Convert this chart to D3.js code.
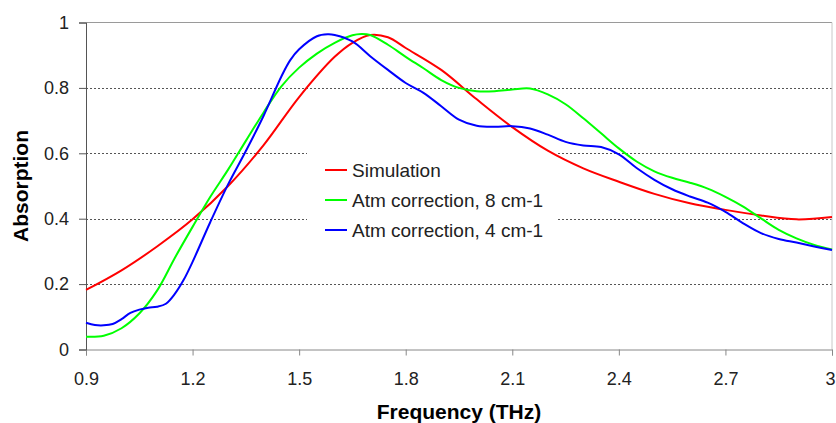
<!DOCTYPE html>
<html>
<head>
<meta charset="utf-8">
<script src="https://cdn.jsdelivr.net/npm/d3@7"></script>
<style>
  body { margin: 0; background: #fff; }
  svg { display: block; font-family: "Liberation Sans", Arial, sans-serif; }
</style>
</head>
<body>
<svg id="chart"></svg>
<script>
const width = 836, height = 423;

// Simulation (red)
const simFreq = [0.9, 1.0, 1.1, 1.2, 1.3, 1.4, 1.5, 1.6, 1.65, 1.7, 1.75, 1.8, 1.9, 2.0, 2.1, 2.2, 2.3, 2.4, 2.5, 2.6, 2.7, 2.8, 2.9, 3.0];
const simAbs  = [0.182, 0.242, 0.315, 0.398, 0.5, 0.625, 0.772, 0.895, 0.938, 0.962, 0.955, 0.922, 0.855, 0.765, 0.68, 0.608, 0.554, 0.513, 0.476, 0.447, 0.427, 0.41, 0.398, 0.405];

// Atm correction, 8 cm-1 (green)
const atm8Freq = [0.9, 0.95, 1.0, 1.05, 1.1, 1.15, 1.2, 1.25, 1.3, 1.35, 1.4, 1.45, 1.5, 1.55, 1.6, 1.65, 1.675, 1.7, 1.75, 1.8, 1.85, 1.9, 1.95, 2.0, 2.05, 2.1, 2.15, 2.2, 2.25, 2.3, 2.35, 2.4, 2.45, 2.5, 2.55, 2.6, 2.65, 2.7, 2.75, 2.8, 2.85, 2.9, 2.95, 3.0];
const atm8Abs  = [0.039, 0.042, 0.065, 0.11, 0.18, 0.28, 0.375, 0.467, 0.55, 0.638, 0.725, 0.805, 0.862, 0.905, 0.938, 0.961, 0.965, 0.962, 0.932, 0.895, 0.86, 0.824, 0.8, 0.79, 0.79, 0.795, 0.798, 0.78, 0.75, 0.707, 0.661, 0.615, 0.575, 0.545, 0.525, 0.51, 0.492, 0.467, 0.437, 0.401, 0.366, 0.34, 0.32, 0.306];

// Atm correction, 4 cm-1 (blue)
const atm4Freq = [0.9, 0.925, 0.95, 0.975, 1.0, 1.025, 1.05, 1.075, 1.1, 1.125, 1.15, 1.175, 1.2, 1.25, 1.3, 1.35, 1.4, 1.45, 1.475, 1.5, 1.55, 1.58, 1.6, 1.65, 1.7, 1.75, 1.8, 1.85, 1.9, 1.95, 2.0, 2.05, 2.1, 2.15, 2.2, 2.25, 2.3, 2.35, 2.4, 2.45, 2.5, 2.55, 2.6, 2.65, 2.7, 2.75, 2.8, 2.85, 2.9, 2.95, 3.0];
const atm4Abs  = [0.082, 0.075, 0.074, 0.078, 0.093, 0.112, 0.122, 0.128, 0.131, 0.14, 0.17, 0.213, 0.268, 0.39, 0.505, 0.607, 0.715, 0.835, 0.885, 0.918, 0.958, 0.964, 0.962, 0.942, 0.897, 0.855, 0.815, 0.785, 0.744, 0.703, 0.684, 0.681, 0.683, 0.676, 0.657, 0.635, 0.624, 0.619, 0.597, 0.555, 0.519, 0.49, 0.468, 0.449, 0.421, 0.386, 0.356, 0.338, 0.327, 0.315, 0.304];

const seriesNames  = ["Simulation", "Atm correction, 8 cm-1", "Atm correction, 4 cm-1"];
const seriesColors = ["#ff0000", "#00ff00", "#0000ff"];

const xTicks = [0.9, 1.2, 1.5, 1.8, 2.1, 2.4, 2.7, 3.0];
const yTicks = [0, 0.2, 0.4, 0.6, 0.8, 1];

const series = [
  simFreq.map((f, i) => ({ f: f, v: simAbs[i] })),
  atm8Freq.map((f, i) => ({ f: f, v: atm8Abs[i] })),
  atm4Freq.map((f, i) => ({ f: f, v: atm4Abs[i] }))
];

const margin = { left: 86, right: 4, top: 22.5, bottom: 73.5 };

const x = d3.scaleLinear()
            .domain([0.9, 3.0])
            .range([margin.left, width - margin.right]);
const y = d3.scaleLinear()
            .domain([0, 1])
            .range([height - margin.bottom, margin.top]);

const svg = d3.select("#chart")
              .attr("width", width)
              .attr("height", height);

// dotted gridlines
svg.append("g")
   .selectAll("line")
   .data(yTicks.filter(d => d > 0 && d < 1))
   .enter()
   .append("line")
   .attr("x1", x(0.9)).attr("x2", x(3.0))
   .attr("y1", d => Math.round(y(d)) + 0.5)
   .attr("y2", d => Math.round(y(d)) + 0.5)
   .attr("stroke", "#555")
   .attr("stroke-dasharray", "2,2");

// top and right frame
svg.append("line")
   .attr("x1", x(0.9)).attr("x2", x(3.0))
   .attr("y1", y(1)).attr("y2", y(1))
   .attr("stroke", "#9a9a9a");
svg.append("line")
   .attr("x1", x(3.0)).attr("x2", x(3.0))
   .attr("y1", y(1)).attr("y2", y(0))
   .attr("stroke", "#c8c8c8");

const fmt = d3.format("~g");

const xAxis = svg.append("g")
   .attr("transform", `translate(0,${y(0)})`)
   .call(d3.axisBottom(x).tickValues(xTicks).tickFormat(fmt).tickSize(6).tickPadding(16.5));
xAxis.select(".domain").attr("stroke", "#888");
xAxis.selectAll(".tick line").attr("stroke", "#888");
xAxis.selectAll("text").attr("font-size", 18).attr("fill", "#222")
     .attr("font-family", "Liberation Sans, Arial, sans-serif");
// last label sits against the right edge, as in the original
xAxis.selectAll(".tick text").filter(d => d === 3.0)
     .attr("text-anchor", "end").attr("x", 3);

const yAxis = svg.append("g")
   .attr("transform", `translate(${x(0.9)},0)`)
   .call(d3.axisLeft(y).tickValues(yTicks).tickFormat(fmt).tickSize(7).tickPadding(10));
yAxis.select(".domain").attr("stroke", "#555");
yAxis.selectAll(".tick line").attr("stroke", "#555");
yAxis.selectAll("text").attr("font-size", 18).attr("fill", "#222")
     .attr("font-family", "Liberation Sans, Arial, sans-serif");

// legend box (white, no border) sits under the curves
const legend = svg.append("g");
legend.append("rect")
      .attr("x", 307).attr("y", 150)
      .attr("width", 250).attr("height", 97)
      .attr("fill", "#fff");

const line = d3.line()
               .x(d => x(d.f))
               .y(d => y(d.v))
               .curve(d3.curveCatmullRom.alpha(0.5));

svg.append("g")
   .selectAll("path")
   .data(series)
   .enter()
   .append("path")
   .attr("d", line)
   .attr("fill", "none")
   .attr("stroke", (d, i) => seriesColors[i])
   .attr("stroke-width", 2);

const items = legend.selectAll(".item")
                    .data(seriesNames)
                    .enter()
                    .append("g")
                    .attr("class", "item")
                    .attr("transform", (d, i) => `translate(325,${170 + i * 30})`);
items.append("line")
     .attr("x1", 0).attr("x2", 22)
     .attr("stroke", (d, i) => seriesColors[i])
     .attr("stroke-width", 2);
items.append("text")
     .attr("x", 27)
     .attr("dy", "0.35em")
     .attr("font-size", 19)
     .attr("fill", "#222")
     .text(d => d);

// axis titles
svg.append("text")
   .attr("x", (x(0.9) + x(3.0)) / 2)
   .attr("y", 419)
   .attr("text-anchor", "middle")
   .attr("font-size", 21)
   .attr("font-weight", "bold")
   .text("Frequency (THz)");

svg.append("text")
   .attr("transform", `translate(28,${(y(0) + y(1)) / 2}) rotate(-90)`)
   .attr("text-anchor", "middle")
   .attr("font-size", 21)
   .attr("font-weight", "bold")
   .text("Absorption");
</script>
</body>
</html>
